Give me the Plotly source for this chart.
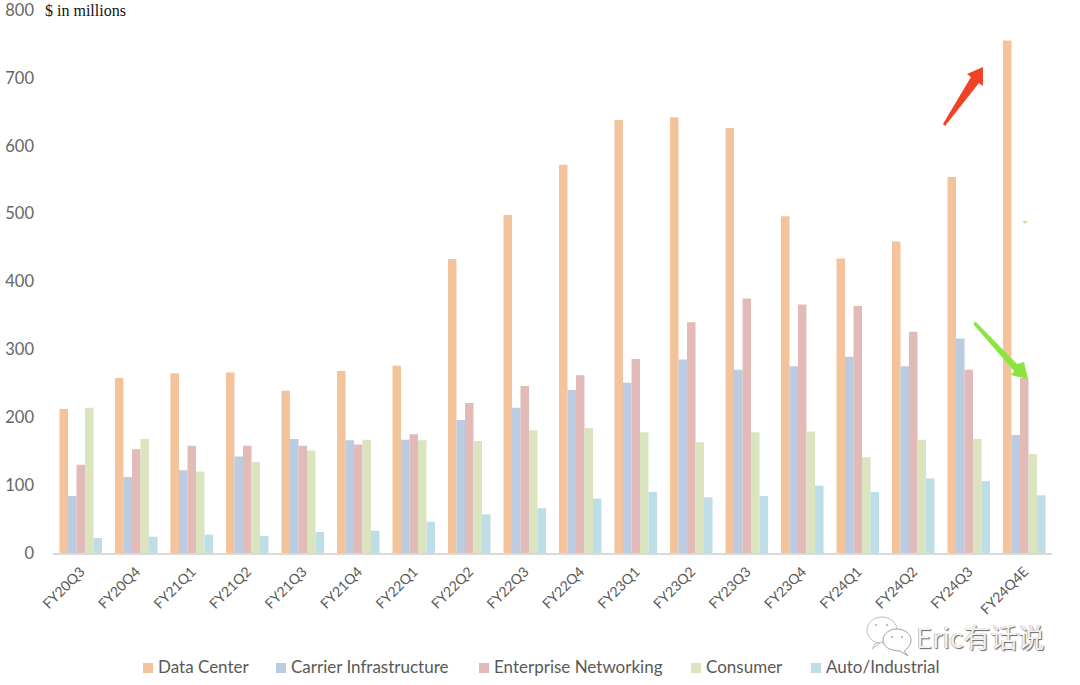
import plotly.graph_objects as go

W, H = 1080, 685
M_L, M_R, M_T, M_B = 53, 28, 10, 132

quarters = ["FY20Q3", "FY20Q4", "FY21Q1", "FY21Q2", "FY21Q3", "FY21Q4", "FY22Q1", "FY22Q2", "FY22Q3",
            "FY22Q4", "FY23Q1", "FY23Q2", "FY23Q3", "FY23Q4", "FY24Q1", "FY24Q2", "FY24Q3", "FY24Q4E"]
data_center = [212, 258, 265, 266, 239, 268, 276, 433, 498, 572, 638, 642, 626, 496, 434, 459, 554, 755]
carrier_infrastructure = [84, 112, 122, 142, 168, 166, 167, 196, 214, 240, 251, 285, 270, 275, 289, 275, 316, 174]
enterprise_networking = [130, 153, 158, 158, 158, 160, 175, 221, 246, 262, 286, 340, 375, 366, 364, 326, 270, 258]
consumer = [214, 168, 120, 134, 151, 167, 166, 165, 181, 184, 178, 163, 178, 179, 141, 167, 168, 146]
auto_industrial = [22, 24, 27, 25, 31, 33, 46, 57, 66, 80, 90, 82, 84, 99, 90, 110, 106, 85]

series = [
    ("Data Center", data_center, "#F3C49B"),
    ("Carrier Infrastructure", carrier_infrastructure, "#BBCBE2"),
    ("Enterprise Networking", enterprise_networking, "#E2BBB9"),
    ("Consumer", consumer, "#DAE5C0"),
    ("Auto/Industrial", auto_industrial, "#BDDEE7"),
]

# Left edge of each hand-placed legend swatch, in page pixels
legend_x = [143, 276, 479, 691, 811]


def X(v):
    # Page pixel to paper coordinate, horizontal
    return (v - M_L) / (W - M_L - M_R)


def Y(v):
    # Page pixel to paper coordinate, vertical
    return (H - M_B - v) / (H - M_T - M_B)


def polygon(points):
    return "M " + " L ".join(f"{X(a):.4f},{Y(b):.4f}" for a, b in points) + " Z"


def bubble(cx, cy, rx, ry, tail):
    # Speech bubble outline: an ellipse built from beziers with a small tail
    k = 0.5523
    return (f"M {X(cx - rx):.4f},{Y(cy):.4f} "
            f"C {X(cx - rx):.4f},{Y(cy - k * ry):.4f} {X(cx - k * rx):.4f},{Y(cy - ry):.4f} {X(cx):.4f},{Y(cy - ry):.4f} "
            f"C {X(cx + k * rx):.4f},{Y(cy - ry):.4f} {X(cx + rx):.4f},{Y(cy - k * ry):.4f} {X(cx + rx):.4f},{Y(cy):.4f} "
            f"C {X(cx + rx):.4f},{Y(cy + k * ry):.4f} {X(cx + k * rx):.4f},{Y(cy + ry):.4f} {X(tail[0]):.4f},{Y(cy + ry):.4f} "
            f"L {X(tail[1]):.4f},{Y(tail[2]):.4f} L {X(tail[3]):.4f},{Y(cy + ry):.4f} "
            f"C {X(cx - k * rx):.4f},{Y(cy + ry):.4f} {X(cx - rx):.4f},{Y(cy + k * ry):.4f} {X(cx - rx):.4f},{Y(cy):.4f} Z")


def paper_path(d, fill, line=None):
    return dict(type="path", xref="paper", yref="paper", path=d, fillcolor=fill,
                line=line if line else dict(width=0))


fig = go.Figure()
for name, values, colour in series:
    fig.add_trace(go.Bar(name=name, x=quarters, y=values, showlegend=False,
                         marker=dict(color=colour, line_width=0)))

red_arrow = [(943, 124), (945, 126), (979, 83), (983, 86), (983, 67), (967, 74), (971, 77)]
green_arrow = [(974, 322), (976, 322), (1017, 364), (1024, 362), (1028, 379), (1011, 375), (1014, 371), (974, 325)]
speck = [(1022, 221), (1028, 221), (1025, 224)]

shapes = [
    paper_path(polygon(red_arrow), "#EE4425"),
    paper_path(polygon(green_arrow), "#8AE63F"),
    paper_path(polygon(speck), "#B5EE90"),
    paper_path(bubble(882, 630, 15, 13, (876, 872, 649, 880)), "white", dict(color="#BDBDBD", width=1)),
    paper_path(bubble(897, 640, 14, 11, (904, 908, 656, 900)), "white", dict(color="#A0A0A0", width=1)),
]
for cx, cy in [(876, 625), (887, 625), (892, 637), (902, 637)]:
    shapes.append(dict(type="circle", xref="paper", yref="paper",
                       x0=X(cx - 1), x1=X(cx + 1), y0=Y(cy + 1), y1=Y(cy - 1),
                       fillcolor="#AAAAAA", line_width=0))

annotations = [
    dict(text="$ in millions", xref="paper", yref="paper", x=X(43), y=Y(10), xanchor="left",
         yanchor="middle", showarrow=False, font=dict(family="Liberation Serif", size=16, color="#111111")),
    dict(text="Eric有话说", xref="paper", yref="paper", x=X(914), y=Y(636), xanchor="left",
         yanchor="middle", showarrow=False,
         font=dict(family="Noto Sans CJK SC", size=27, color="#F2F2F2",
                   shadow="1px 1px 1px #666666, -0.5px -0.5px 0.5px #AAAAAA")),
]

# Legend row: square swatches with text to their right
for left, (name, _, colour) in zip(legend_x, series):
    shapes.append(dict(type="rect", xref="paper", yref="paper", x0=X(left), x1=X(left + 10),
                       y0=Y(673), y1=Y(663), fillcolor=colour, line_width=0))
    annotations.append(dict(text=name, xref="paper", yref="paper", x=X(left + 13), y=Y(666), xanchor="left",
                            yanchor="middle", showarrow=False, font=dict(size=17, color="#595959")))

fig.update_layout(
    width=W, height=H,
    margin=dict(l=M_L, r=M_R, t=M_T, b=M_B, autoexpand=False),
    paper_bgcolor="white", plot_bgcolor="white",
    barmode="group", bargap=0.234, bargroupgap=0,
    font=dict(family="Lato", color="#595959", size=16),
    xaxis=dict(tickangle=-45, showgrid=False, ticks="", showline=True, linecolor="#D9D9D9", linewidth=2,
               tickfont=dict(size=14), ticklabelstandoff=3),
    yaxis=dict(range=[0, 800], dtick=100, showgrid=False, zeroline=False, ticks="", showline=False,
               tickfont=dict(size=16.5, color="#666666"), ticklabelstandoff=18, ticklabeloverflow="allow"),
    showlegend=False,
    shapes=shapes,
    annotations=annotations,
)
fig.write_html("out.html")
